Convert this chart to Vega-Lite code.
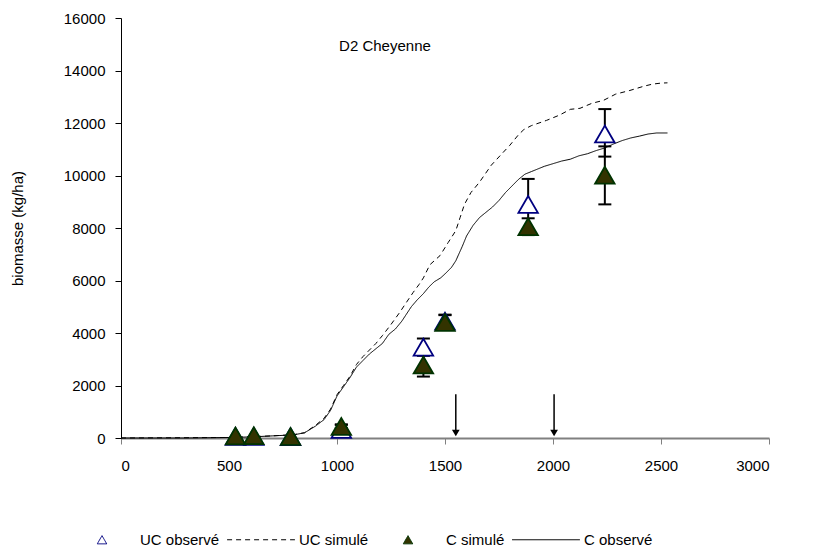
{
  "$schema": "https://vega.github.io/schema/vega-lite/v6.json",
  "width": 648,
  "height": 420,
  "autosize": "none",
  "padding": {"left": 121, "top": 18, "right": 46, "bottom": 115},
  "background": "white",
  "config": {
    "view": {"stroke": null},
    "font": "Liberation Sans",
    "axis": {"labelFont": "Liberation Sans", "labelFontSize": 15, "labelColor": "#000000", "titleFont": "Liberation Sans", "titleFontSize": 15, "titleFontWeight": "normal", "titleColor": "#000000", "grid": false},
    "legend": {"labelFont": "Liberation Sans", "labelFontSize": 15, "labelColor": "#000000", "padding": 0}
  },
  "datasets": {
    "obs": [
      {"series": "UC observé", "x": 530, "y": 60},
      {"series": "UC observé", "x": 615, "y": 60},
      {"series": "UC observé", "x": 785, "y": 50},
      {"series": "UC observé", "x": 1020, "y": 330, "lo": 140, "hi": 520},
      {"series": "UC observé", "x": 1400, "y": 3460, "lo": 3130, "hi": 3790},
      {"series": "UC observé", "x": 1500, "y": 4450, "lo": 4200, "hi": 4700},
      {"series": "UC observé", "x": 1885, "y": 8900, "lo": 7930, "hi": 9870},
      {"series": "UC observé", "x": 2240, "y": 11580, "lo": 10720, "hi": 12530},
      {"series": "C simulé", "x": 530, "y": 80},
      {"series": "C simulé", "x": 615, "y": 90},
      {"series": "C simulé", "x": 785, "y": 60},
      {"series": "C simulé", "x": 1020, "y": 440, "lo": 380, "hi": 500},
      {"series": "C simulé", "x": 1400, "y": 2780, "lo": 2340, "hi": 3220},
      {"series": "C simulé", "x": 1500, "y": 4400, "lo": 4120, "hi": 4680},
      {"series": "C simulé", "x": 1885, "y": 8050, "lo": 7730, "hi": 8370},
      {"series": "C simulé", "x": 2240, "y": 10010, "lo": 8900, "hi": 11110}
    ],
    "sim": [
      {"series": "UC simulé", "x": 0, "y": 0},
      {"series": "UC simulé", "x": 500, "y": 20},
      {"series": "UC simulé", "x": 700, "y": 80},
      {"series": "UC simulé", "x": 800, "y": 130},
      {"series": "UC simulé", "x": 850, "y": 200},
      {"series": "UC simulé", "x": 900, "y": 480},
      {"series": "UC simulé", "x": 940, "y": 750},
      {"series": "UC simulé", "x": 970, "y": 1100},
      {"series": "UC simulé", "x": 1000, "y": 1650},
      {"series": "UC simulé", "x": 1030, "y": 2000},
      {"series": "UC simulé", "x": 1060, "y": 2350},
      {"series": "UC simulé", "x": 1090, "y": 2800},
      {"series": "UC simulé", "x": 1120, "y": 3100},
      {"series": "UC simulé", "x": 1150, "y": 3350},
      {"series": "UC simulé", "x": 1180, "y": 3600},
      {"series": "UC simulé", "x": 1210, "y": 3900},
      {"series": "UC simulé", "x": 1245, "y": 4270},
      {"series": "UC simulé", "x": 1290, "y": 4780},
      {"series": "UC simulé", "x": 1320, "y": 5150},
      {"series": "UC simulé", "x": 1353, "y": 5550},
      {"series": "UC simulé", "x": 1380, "y": 5850},
      {"series": "UC simulé", "x": 1400, "y": 6100},
      {"series": "UC simulé", "x": 1430, "y": 6600},
      {"series": "UC simulé", "x": 1477, "y": 6950},
      {"series": "UC simulé", "x": 1515, "y": 7450},
      {"series": "UC simulé", "x": 1550, "y": 7900},
      {"series": "UC simulé", "x": 1570, "y": 8400},
      {"series": "UC simulé", "x": 1590, "y": 8900},
      {"series": "UC simulé", "x": 1620, "y": 9350},
      {"series": "UC simulé", "x": 1660, "y": 9750},
      {"series": "UC simulé", "x": 1714, "y": 10390},
      {"series": "UC simulé", "x": 1760, "y": 10800},
      {"series": "UC simulé", "x": 1800, "y": 11150},
      {"series": "UC simulé", "x": 1840, "y": 11550},
      {"series": "UC simulé", "x": 1865, "y": 11750},
      {"series": "UC simulé", "x": 1900, "y": 11900},
      {"series": "UC simulé", "x": 1970, "y": 12100},
      {"series": "UC simulé", "x": 2030, "y": 12300},
      {"series": "UC simulé", "x": 2080, "y": 12520},
      {"series": "UC simulé", "x": 2125, "y": 12560},
      {"series": "UC simulé", "x": 2180, "y": 12750},
      {"series": "UC simulé", "x": 2233, "y": 12860},
      {"series": "UC simulé", "x": 2290, "y": 13100},
      {"series": "UC simulé", "x": 2356, "y": 13240},
      {"series": "UC simulé", "x": 2420, "y": 13400},
      {"series": "UC simulé", "x": 2460, "y": 13480},
      {"series": "UC simulé", "x": 2500, "y": 13520},
      {"series": "UC simulé", "x": 2530, "y": 13530},
      {"series": "C observé", "x": 0, "y": 0},
      {"series": "C observé", "x": 300, "y": 0},
      {"series": "C observé", "x": 500, "y": 20},
      {"series": "C observé", "x": 600, "y": 40},
      {"series": "C observé", "x": 700, "y": 80},
      {"series": "C observé", "x": 800, "y": 120},
      {"series": "C observé", "x": 850, "y": 200},
      {"series": "C observé", "x": 900, "y": 450},
      {"series": "C observé", "x": 940, "y": 700},
      {"series": "C observé", "x": 970, "y": 1050},
      {"series": "C observé", "x": 1000, "y": 1600},
      {"series": "C observé", "x": 1030, "y": 1950},
      {"series": "C observé", "x": 1060, "y": 2300},
      {"series": "C observé", "x": 1090, "y": 2700},
      {"series": "C observé", "x": 1120, "y": 2950},
      {"series": "C observé", "x": 1150, "y": 3200},
      {"series": "C observé", "x": 1180, "y": 3400},
      {"series": "C observé", "x": 1210, "y": 3600},
      {"series": "C observé", "x": 1240, "y": 3950},
      {"series": "C observé", "x": 1270, "y": 4150},
      {"series": "C observé", "x": 1300, "y": 4450},
      {"series": "C observé", "x": 1344, "y": 5000},
      {"series": "C observé", "x": 1370, "y": 5250},
      {"series": "C observé", "x": 1400, "y": 5500},
      {"series": "C observé", "x": 1425, "y": 5750},
      {"series": "C observé", "x": 1450, "y": 5950},
      {"series": "C observé", "x": 1480, "y": 6100},
      {"series": "C observé", "x": 1500, "y": 6250},
      {"series": "C observé", "x": 1530, "y": 6500},
      {"series": "C observé", "x": 1550, "y": 6750},
      {"series": "C observé", "x": 1580, "y": 7300},
      {"series": "C observé", "x": 1600, "y": 7700},
      {"series": "C observé", "x": 1630, "y": 8100},
      {"series": "C observé", "x": 1660, "y": 8400},
      {"series": "C observé", "x": 1690, "y": 8600},
      {"series": "C observé", "x": 1720, "y": 8800},
      {"series": "C observé", "x": 1750, "y": 9050},
      {"series": "C observé", "x": 1780, "y": 9350},
      {"series": "C observé", "x": 1810, "y": 9600},
      {"series": "C observé", "x": 1840, "y": 9850},
      {"series": "C observé", "x": 1870, "y": 10050},
      {"series": "C observé", "x": 1900, "y": 10150},
      {"series": "C observé", "x": 1930, "y": 10250},
      {"series": "C observé", "x": 1960, "y": 10350},
      {"series": "C observé", "x": 2000, "y": 10450},
      {"series": "C observé", "x": 2040, "y": 10550},
      {"series": "C observé", "x": 2080, "y": 10620},
      {"series": "C observé", "x": 2120, "y": 10750},
      {"series": "C observé", "x": 2160, "y": 10830},
      {"series": "C observé", "x": 2200, "y": 10950},
      {"series": "C observé", "x": 2240, "y": 11050},
      {"series": "C observé", "x": 2280, "y": 11200},
      {"series": "C observé", "x": 2320, "y": 11330},
      {"series": "C observé", "x": 2360, "y": 11430},
      {"series": "C observé", "x": 2400, "y": 11500},
      {"series": "C observé", "x": 2440, "y": 11580},
      {"series": "C observé", "x": 2480, "y": 11620},
      {"series": "C observé", "x": 2530, "y": 11620}
    ],
    "arrows": [
      {"x": 1550, "top": 1670, "tip": 190},
      {"x": 2005, "top": 1670, "tip": 190}
    ],
    "label": [
      {"x": 1222, "y": 14930, "text": "D2 Cheyenne"}
    ]
  },
  "layer": [
    {
      "data": {"name": "sim"},
      "mark": {"type": "line", "strokeWidth": 1, "interpolate": "linear"},
      "encoding": {
        "x": {"field": "x", "type": "quantitative", "scale": {"domain": [0, 3000], "nice": false}, "axis": {"title": null, "values": [0, 500, 1000, 1500, 2000, 2500, 3000], "format": "d", "domainColor": "#808080", "domainWidth": 2, "tickColor": "#808080", "tickSize": 6, "labelPadding": 14}},
        "y": {"field": "y", "type": "quantitative", "scale": {"domain": [0, 16000], "nice": false}, "axis": {"title": "biomasse (kg/ha)", "values": [0, 2000, 4000, 6000, 8000, 10000, 12000, 14000, 16000], "format": "d", "domainColor": "#000000", "tickColor": "#000000", "tickSize": 6, "labelPadding": 10, "titlePadding": 38}},
        "stroke": {"field": "series", "type": "nominal", "scale": {"domain": ["UC observé", "UC simulé", "C simulé", "C observé"], "range": ["#000080", "#000000", "#003300", "#000000"]}, "legend": {"title": null, "orient": "none", "legendX": -53, "legendY": 514, "direction": "horizontal", "columns": 4, "columnPadding": 5, "symbolSize": 4600, "symbolStrokeWidth": 1, "labelOffset": 4, "encode": {"symbols": {"update": {"x": {"value": 34}, "size": {"signal": "datum.value === 'UC simulé' || datum.value === 'C observé' ? 4600 : 90"}}}, "labels": {"update": {"x": {"value": 72}}}}}},
        "strokeDash": {"field": "series", "type": "nominal", "scale": {"domain": ["UC observé", "UC simulé", "C simulé", "C observé"], "range": [[1, 0], [5, 4], [1, 0], [1, 0]]}, "legend": {"title": null, "orient": "none", "legendX": -53, "legendY": 514, "direction": "horizontal", "columns": 4, "columnPadding": 5, "symbolSize": 4600, "symbolStrokeWidth": 1, "labelOffset": 4, "encode": {"symbols": {"update": {"x": {"value": 34}, "size": {"signal": "datum.value === 'UC simulé' || datum.value === 'C observé' ? 4600 : 90"}}}, "labels": {"update": {"x": {"value": 72}}}}}}
      }
    },
    {
      "data": {"name": "arrows"},
      "mark": {"type": "rule", "color": "#000000", "strokeWidth": 1.5},
      "encoding": {
        "x": {"field": "x", "type": "quantitative"},
        "y": {"field": "top", "type": "quantitative"},
        "y2": {"field": "tip"}
      }
    },
    {
      "data": {"name": "arrows"},
      "mark": {"type": "point", "shape": "triangle-down", "filled": true, "color": "#000000", "size": 60, "opacity": 1},
      "encoding": {
        "x": {"field": "x", "type": "quantitative"},
        "y": {"field": "tip", "type": "quantitative"}
      }
    },
    {
      "data": {"name": "obs"},
      "transform": [{"filter": "datum.lo != null"}],
      "mark": {"type": "rule", "color": "#000000", "strokeWidth": 2},
      "encoding": {
        "x": {"field": "x", "type": "quantitative"},
        "y": {"field": "lo", "type": "quantitative"},
        "y2": {"field": "hi"}
      }
    },
    {
      "data": {"name": "obs"},
      "transform": [{"filter": "datum.lo != null"}],
      "mark": {"type": "tick", "orient": "horizontal", "color": "#000000", "thickness": 2, "size": 13, "opacity": 1},
      "encoding": {
        "x": {"field": "x", "type": "quantitative"},
        "y": {"field": "lo", "type": "quantitative"}
      }
    },
    {
      "data": {"name": "obs"},
      "transform": [{"filter": "datum.lo != null"}],
      "mark": {"type": "tick", "orient": "horizontal", "color": "#000000", "thickness": 2, "size": 13, "opacity": 1},
      "encoding": {
        "x": {"field": "x", "type": "quantitative"},
        "y": {"field": "hi", "type": "quantitative"}
      }
    },
    {
      "data": {"name": "obs"},
      "mark": {"type": "point", "size": 380, "strokeWidth": 1.8, "opacity": 1},
      "encoding": {
        "x": {"field": "x", "type": "quantitative"},
        "y": {"field": "y", "type": "quantitative"},
        "shape": {"field": "series", "type": "nominal", "scale": {"domain": ["UC observé", "UC simulé", "C simulé", "C observé"], "range": ["triangle-up", "stroke", "triangle-up", "stroke"]}, "legend": {"title": null, "orient": "none", "legendX": -53, "legendY": 514, "direction": "horizontal", "columns": 4, "columnPadding": 5, "symbolSize": 4600, "symbolStrokeWidth": 1, "labelOffset": 4, "encode": {"symbols": {"update": {"x": {"value": 34}, "size": {"signal": "datum.value === 'UC simulé' || datum.value === 'C observé' ? 4600 : 90"}}}, "labels": {"update": {"x": {"value": 72}}}}}},
        "fill": {"field": "series", "type": "nominal", "scale": {"domain": ["UC observé", "UC simulé", "C simulé", "C observé"], "range": ["#ffffff", "transparent", "#333300", "transparent"]}, "legend": {"title": null, "orient": "none", "legendX": -53, "legendY": 514, "direction": "horizontal", "columns": 4, "columnPadding": 5, "symbolSize": 4600, "symbolStrokeWidth": 1, "labelOffset": 4, "encode": {"symbols": {"update": {"x": {"value": 34}, "size": {"signal": "datum.value === 'UC simulé' || datum.value === 'C observé' ? 4600 : 90"}}}, "labels": {"update": {"x": {"value": 72}}}}}},
        "stroke": {"field": "series", "type": "nominal"}
      }
    },
    {
      "data": {"name": "label"},
      "mark": {"type": "text", "font": "Liberation Sans", "fontSize": 15, "color": "#000000", "align": "center", "baseline": "middle"},
      "encoding": {
        "x": {"field": "x", "type": "quantitative"},
        "y": {"field": "y", "type": "quantitative"},
        "text": {"field": "text"}
      }
    }
  ]
}
